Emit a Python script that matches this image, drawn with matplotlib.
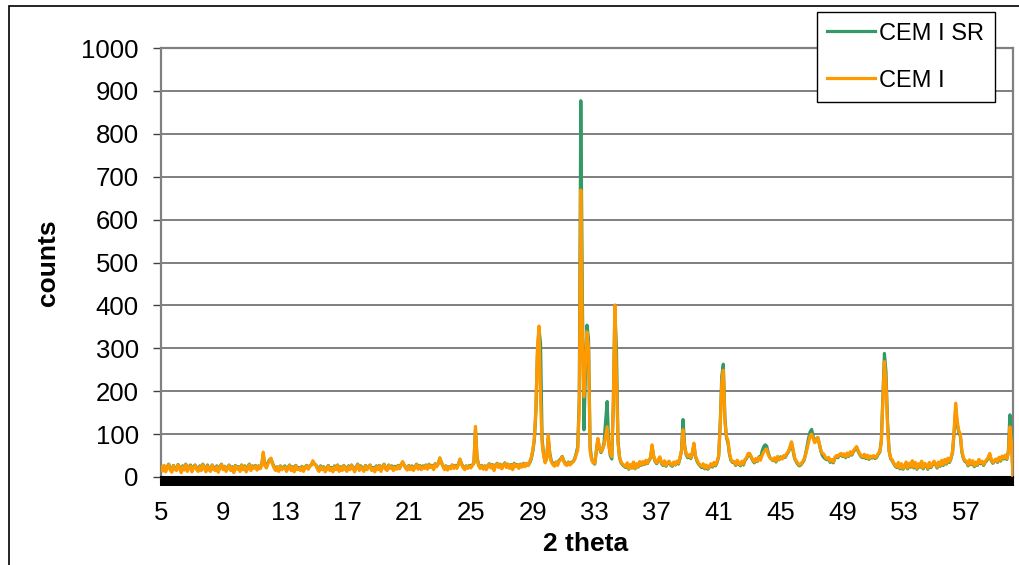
import numpy as np
import matplotlib
matplotlib.use("Agg")
import matplotlib.pyplot as plt
from matplotlib.patches import Rectangle

plt.rcParams['font.family'] = ['Liberation Sans', 'DejaVu Sans']

# ---- data (counts, one row per degree 2-theta, step 0.1) ----
two_theta_start = 5.0
two_theta_step = 0.1

cem_i_sr = [
    26, 17, 25, 15, 24, 30, 19, 14, 27, 21,   # 5
    18, 29, 22, 13, 26, 19, 30, 16, 23, 28,   # 6
    15, 24, 28, 20, 16, 26, 18, 30, 22, 15,   # 7
    28, 19, 16, 28, 21, 18, 26, 14, 24, 30,   # 8
    20, 25, 16, 22, 28, 18, 24, 13, 27, 21,   # 9
    24, 16, 28, 19, 26, 15, 23, 30, 18, 26,   # 10
    22, 27, 18, 26, 21, 29, 52, 30, 24, 33,   # 11
    40, 42, 32, 24, 17, 24, 15, 26, 19, 23,   # 12
    26, 16, 22, 28, 18, 24, 15, 27, 20, 22,   # 13
    18, 25, 16, 23, 27, 20, 26, 28, 35, 30,   # 14
    28, 21, 15, 26, 19, 24, 15, 21, 27, 18,   # 15
    22, 15, 26, 19, 28, 16, 24, 18, 27, 21,   # 16
    16, 26, 19, 28, 22, 15, 24, 30, 18, 26,   # 17
    20, 16, 27, 19, 24, 28, 18, 22, 15, 26,   # 18
    19, 27, 16, 24, 30, 20, 18, 28, 22, 26,   # 19
    18, 25, 20, 27, 21, 29, 34, 28, 22, 19,   # 20
    27, 19, 26, 18, 24, 30, 20, 27, 19, 26,   # 21
    22, 28, 20, 30, 24, 27, 19, 31, 26, 32,   # 22
    43, 34, 26, 20, 26, 19, 24, 21, 28, 22,   # 23
    27, 23, 30, 40, 31, 24, 19, 26, 22, 27,   # 24
    24, 28, 33, 110, 47, 28, 22, 27, 21, 26,  # 25
    19, 27, 31, 23, 29, 17, 28, 32, 24, 30,   # 26
    21, 28, 33, 24, 30, 22, 29, 19, 32, 26,   # 27
    29, 22, 30, 25, 32, 26, 31, 27, 33, 42,   # 28
    60, 86, 150, 285, 345, 312, 90, 52, 35, 44,  # 29
    90, 55, 37, 32, 27, 35, 29, 39, 42, 48,   # 30
    38, 31, 29, 35, 30, 34, 36, 42, 55, 70,   # 31
    180, 877, 420, 110, 240, 354, 320, 70, 42, 34,  # 32
    30, 58, 88, 68, 57, 64, 80, 130, 176, 80,  # 33
    50, 42, 170, 390, 300, 85, 45, 33, 28, 25,  # 34
    22, 31, 18, 27, 21, 33, 19, 29, 23, 34,   # 35
    27, 34, 29, 37, 31, 38, 44, 70, 48, 36,   # 36
    31, 39, 45, 32, 27, 36, 25, 32, 35, 28,   # 37
    25, 33, 28, 35, 30, 43, 62, 134, 75, 52,  # 38
    45, 50, 43, 55, 75, 48, 37, 30, 26, 22,   # 39
    28, 19, 25, 18, 23, 29, 23, 32, 26, 34,   # 40
    48, 125, 235, 263, 140, 92, 80, 52, 38, 34,  # 41
    34, 27, 37, 30, 26, 35, 28, 39, 43, 52,   # 42
    53, 46, 38, 33, 41, 36, 47, 44, 60, 70,   # 43
    75, 72, 56, 46, 42, 38, 43, 35, 46, 40,   # 44
    47, 43, 48, 46, 53, 58, 68, 80, 62, 43,   # 45
    36, 30, 26, 28, 33, 38, 52, 70, 90, 105,  # 46
    111, 95, 82, 88, 92, 76, 60, 50, 45, 42,  # 47
    40, 43, 34, 39, 33, 44, 48, 45, 51, 53,   # 48
    48, 52, 45, 54, 48, 57, 51, 59, 64, 69,   # 49
    60, 53, 47, 45, 51, 43, 49, 41, 47, 44,   # 50
    48, 43, 46, 53, 58, 85, 190, 288, 245, 130,  # 51
    62, 43, 38, 31, 25, 22, 32, 19, 29, 18,   # 52
    24, 33, 19, 30, 23, 36, 21, 32, 18, 29,   # 53
    23, 35, 19, 30, 26, 18, 32, 22, 28, 35,   # 54
    29, 21, 33, 25, 37, 27, 39, 30, 42, 34,   # 55
    43, 58, 105, 160, 122, 104, 96, 58, 43, 36,  # 56
    35, 26, 38, 29, 36, 24, 33, 27, 39, 31,   # 57
    35, 27, 34, 38, 44, 52, 38, 32, 37, 40,   # 58
    34, 44, 37, 47, 42, 49, 41, 60, 145, 95,  # 59
    0,                                        # 60
]

cem_i = [
    24, 14, 27, 12, 21, 29, 16, 11, 26, 18,   # 5
    15, 28, 20, 10, 24, 16, 29, 13, 22, 26,   # 6
    12, 22, 27, 17, 13, 24, 15, 29, 20, 12,   # 7
    26, 16, 13, 27, 18, 15, 24, 11, 22, 29,   # 8
    17, 24, 13, 20, 27, 15, 22, 10, 26, 18,   # 9
    22, 13, 27, 17, 24, 12, 20, 29, 15, 24,   # 10
    20, 26, 16, 25, 19, 28, 58, 27, 21, 30,   # 11
    38, 44, 30, 21, 15, 23, 13, 25, 17, 21,   # 12
    24, 13, 20, 27, 15, 22, 12, 26, 17, 20,   # 13
    15, 24, 13, 22, 26, 18, 25, 27, 38, 31,   # 14
    27, 18, 13, 24, 17, 22, 12, 18, 26, 15,   # 15
    20, 12, 24, 17, 27, 13, 22, 15, 26, 18,   # 16
    13, 24, 17, 27, 20, 12, 22, 29, 15, 24,   # 17
    18, 13, 26, 17, 22, 27, 15, 20, 12, 24,   # 18
    17, 26, 13, 22, 29, 18, 15, 27, 20, 24,   # 19
    15, 23, 18, 26, 19, 28, 36, 27, 20, 16,   # 20
    26, 17, 24, 15, 22, 29, 18, 26, 17, 24,   # 21
    20, 27, 18, 29, 22, 26, 17, 30, 24, 30,   # 22
    45, 33, 25, 17, 25, 16, 23, 19, 28, 20,   # 23
    26, 20, 29, 42, 30, 22, 17, 25, 20, 26,   # 24
    21, 27, 32, 118, 45, 27, 20, 26, 18, 25,  # 25
    17, 26, 30, 21, 28, 15, 27, 31, 22, 29,   # 26
    19, 27, 32, 22, 29, 20, 28, 17, 31, 24,   # 27
    28, 20, 29, 23, 31, 24, 32, 27, 36, 45,   # 28
    63, 90, 160, 300, 352, 180, 79, 50, 33, 45,  # 29
    98, 50, 35, 29, 25, 34, 27, 37, 40, 47,   # 30
    36, 29, 27, 34, 28, 32, 35, 40, 52, 63,   # 31
    160, 669, 330, 187, 260, 338, 300, 60, 40, 33,  # 32
    32, 60, 90, 70, 59, 65, 74, 95, 117, 75,  # 33
    55, 47, 180, 401, 230, 80, 47, 35, 30, 27,  # 34
    24, 33, 19, 29, 22, 35, 20, 31, 24, 36,   # 35
    28, 36, 30, 39, 32, 40, 45, 75, 50, 38,   # 36
    33, 41, 47, 34, 29, 38, 27, 34, 37, 30,   # 37
    27, 35, 29, 37, 32, 45, 60, 110, 70, 55,  # 38
    48, 52, 45, 58, 79, 50, 40, 32, 28, 25,   # 39
    31, 21, 28, 20, 25, 31, 25, 34, 28, 36,   # 40
    50, 120, 220, 249, 130, 95, 85, 55, 40, 36,  # 41
    36, 29, 39, 32, 28, 37, 30, 41, 45, 55,   # 42
    55, 48, 40, 35, 43, 37, 46, 39, 50, 58,   # 43
    62, 65, 52, 45, 42, 39, 45, 37, 48, 41,   # 44
    45, 42, 50, 48, 55, 60, 70, 82, 65, 45,   # 45
    38, 33, 28, 30, 35, 40, 50, 65, 80, 95,   # 46
    100, 90, 80, 86, 92, 78, 62, 55, 53, 45,  # 47
    42, 46, 37, 41, 35, 46, 50, 47, 53, 55,   # 48
    50, 54, 47, 56, 50, 59, 53, 61, 66, 71,   # 49
    62, 55, 49, 47, 53, 45, 51, 43, 49, 46,   # 50
    50, 45, 48, 55, 60, 80, 180, 269, 220, 120,  # 51
    60, 45, 40, 33, 27, 24, 34, 21, 31, 20,   # 52
    26, 35, 21, 32, 25, 38, 23, 34, 20, 31,   # 53
    25, 37, 21, 32, 28, 20, 34, 24, 30, 37,   # 54
    31, 23, 35, 27, 39, 29, 41, 32, 44, 36,   # 55
    45, 60, 110, 172, 130, 108, 100, 60, 45, 38,  # 56
    37, 28, 40, 31, 38, 26, 35, 29, 41, 33,   # 57
    37, 29, 36, 40, 46, 55, 40, 34, 39, 42,   # 58
    36, 46, 39, 49, 44, 51, 43, 55, 117, 80,  # 59
    0,                                        # 60
]

series_names = ["CEM I SR", "CEM I"]
x_tick_labels = [5, 9, 13, 17, 21, 25, 29, 33, 37, 41, 45, 49, 53, 57]
y_ticks = [0, 100, 200, 300, 400, 500, 600, 700, 800, 900, 1000]
x_label = "2 theta"
y_label = "counts"

# measurement grid (2-theta positions of the scan)
two_theta = two_theta_start + two_theta_step * np.arange(len(cem_i))

# ---- figure ----
W, H = 1019, 565
fig = plt.figure(figsize=(W / 100, H / 100), dpi=100)
ax = fig.add_axes([161 / W, 1 - 477 / H, (1013 - 161) / W, (477 - 48) / H])

green = '#339966'
orange = '#FF9900'
ax.plot(two_theta, cem_i_sr, color=green, lw=2.3, label=series_names[0], zorder=3)
ax.plot(two_theta, cem_i, color=orange, lw=2.3, label=series_names[1], zorder=4)

ax.set_xlim(two_theta_start, two_theta[-1])
ax.set_ylim(0, 1000)

ax.set_yticks(y_ticks)
ax.set_yticklabels([str(v) for v in y_ticks])
ax.set_xticks(x_tick_labels)
ax.set_xticklabels([str(v) for v in x_tick_labels])
ax.set_xticks(np.arange(two_theta_start, two_theta[-1] + 1e-6, 0.1), minor=True)

ax.tick_params(axis='y', which='major', direction='out', length=6, width=1,
               color='#404040', labelsize=18.5, pad=10)
ax.tick_params(axis='x', which='major', direction='out', length=6.5, width=1.5,
               color='black', labelsize=18.5, pad=11)
ax.tick_params(axis='x', which='minor', direction='out', length=6.5, width=1.5,
               color='black')

ax.yaxis.grid(True, color='#6a6a6a', lw=1.2)
ax.set_axisbelow(True)

for side in ['left', 'right', 'top']:
    ax.spines[side].set_color('#808080')
    ax.spines[side].set_linewidth(1.6)
ax.spines['bottom'].set_color('black')
ax.spines['bottom'].set_linewidth(1.5)

ax.set_ylabel(y_label, fontsize=19, fontweight='bold')
ax.yaxis.set_label_coords(-0.118, 0.5)
ax.set_xlabel(x_label, fontsize=19, fontweight='bold')
ax.xaxis.set_label_coords(0.498, -0.128)

leg = ax.legend(loc='upper right', bbox_to_anchor=(995 / W, 1 - 12 / H),
                bbox_transform=fig.transFigure, fontsize=17, frameon=True,
                fancybox=False, edgecolor='black', framealpha=1,
                handlelength=2.0, handletextpad=0.2, labelspacing=1.06,
                borderpad=0.45, borderaxespad=0)
leg.get_frame().set_linewidth(1.0)

# outer chart border
fig.patches.append(Rectangle((9 / W, -0.1), 1.2, 1 - 6 / H + 0.1,
                             transform=fig.transFigure, fill=False,
                             edgecolor='black', lw=1.2))

fig.savefig('out.png', dpi=100)
